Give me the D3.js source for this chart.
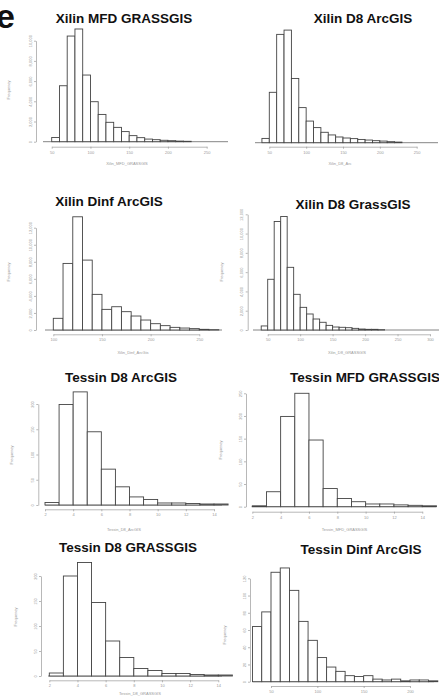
<!DOCTYPE html>
<html>
<head>
<meta charset="utf-8">
<script src="https://cdn.jsdelivr.net/npm/d3@7"></script>
<style>
  body { margin: 0; background: #fff; }
  svg { display: block; font-family: "Liberation Sans", Arial, sans-serif; }
</style>
</head>
<body>
<div id="chart"></div>
<script>
// bin counts
const xilinMfdGrass = [420, 5540, 10460, 11160, 6600, 3960, 2700, 1920, 1420, 1000, 600, 400, 260, 200, 140, 100, 60, 40];
const xilinD8Arc = [420, 4940, 10620, 11040, 6300, 3440, 2120, 1480, 1020, 760, 560, 460, 400, 320, 260, 200, 160, 100, 60];
const xilinDinfArc = [1370, 7810, 13280, 8200, 4180, 2420, 2730, 2150, 1640, 1170, 740, 510, 310, 230, 160, 80, 40];
const xilinD8Grass = [420, 5260, 11250, 11770, 6500, 3700, 2350, 1660, 1140, 800, 480, 310, 280, 240, 170, 100, 70, 70, 35];
const tessinD8Arc = [5, 199, 224, 145, 71, 36, 16, 11, 4, 4, 3, 2, 2];
const tessinMfdGrass = [2, 33, 199, 250, 147, 40, 18, 11, 6, 6, 4, 3, 2];
const tessinD8Grass = [6, 200, 227, 147, 70, 37, 15, 11, 5, 5, 3, 2, 2];
const tessinDinfArc = [64, 81, 127, 132, 106, 70, 48, 28, 17, 12, 7, 6, 7, 3, 2, 3, 1, 2, 2, 1];

const titles = ["Xilin MFD GRASSGIS", "Xilin D8 ArcGIS", "Xilin Dinf ArcGIS", "Xilin D8 GrassGIS",
  "Tessin D8 ArcGIS", "Tessin MFD GRASSGIS", "Tessin D8 GRASSGIS", "Tessin Dinf ArcGIS"];
// the last panel's axis title falls below the picture, so it is left out
const xLabels = ["Xilin_MFD_GRASSGIS", "Xilin_D8_Arc", "Xilin_Dinf_ArcGis", "Xilin_D8_GRASSGIS",
  "Tessin_D8_ArcGIS", "Tessin_MFD_GRASSGIS", "Tessin_D8_GRASSGIS", null];
const counts = [xilinMfdGrass, xilinD8Arc, xilinDinfArc, xilinD8Grass,
  tessinD8Arc, tessinMfdGrass, tessinD8Grass, tessinDinfArc];
const binStart = [50, 40, 100, 40, 2, 2, 2, 30];
const binWidth = [10, 10, 10, 10, 1, 1, 1, 10];
const xTicks = [
  [50, 100, 150, 200, 250], [50, 100, 150, 200, 250], [100, 150, 200, 250], [50, 100, 150, 200, 250, 300],
  [2, 4, 6, 8, 10, 12, 14], [2, 4, 6, 8, 10, 12, 14], [2, 4, 6, 8, 10, 12, 14], [50, 100, 150, 200]
];
const yTicks = [
  [0, 2000, 4000, 6000, 8000, 10000], [0, 2000, 4000, 6000, 8000, 10000],
  [0, 2000, 4000, 6000, 8000, 10000, 12000], [0, 2000, 4000, 6000, 8000, 10000, 12000],
  [0, 50, 100, 150, 200], [0, 50, 100, 150, 200, 250], [0, 50, 100, 150, 200], [0, 20, 40, 60, 80, 100, 120]
];

// where each panel sits on the page (pixels)
const layout = [
  { x0: 51.7, x1: 206.7, y0: 141.7, y1: 40.7, ax: 36, ay: 146.7, base: [43, 228], tx: 124, ty: 23, lx: 127, ly: 165, fx: 10, fy: 90 },
  { x0: 269.3, x1: 416.7, y0: 142.7, y1: 40.7, ax: null, ay: 146.7, base: [255, 438], tx: 363, ty: 23, lx: 340, ly: 165, fx: null, fy: null },
  { x0: 53.3, x1: 199.3, y0: 330, y1: 227.7, ax: 36, ay: 334.3, base: [45, 222], tx: 109, ty: 205.7, lx: 133, ly: 354, fx: 10, fy: 272 },
  { x0: 267.7, x1: 430, y0: 330, y1: 214.3, ax: 247.7, ay: 334.3, base: [253, 439], tx: 353, ty: 209, lx: 347, ly: 354, fx: 223, fy: 272 },
  { x0: 45, x1: 214, y0: 505, y1: 404, ax: 38.3, ay: 509.3, base: [45, 222], tx: 121, ty: 382, lx: 124, ly: 531, fx: 13.3, fy: 455 },
  { x0: 252.3, x1: 422.3, y0: 506.7, y1: 393.3, ax: 246, ay: 511.7, base: [251.7, 436], tx: 365, ty: 382, lx: 344.5, ly: 531, fx: 221.7, fy: 450 },
  { x0: 49.3, x1: 218.3, y0: 676, y1: 576, ax: 41, ay: 680.3, base: [48, 222], tx: 128, ty: 552, lx: 140, ly: 695, fx: 16.7, fy: 617 },
  { x0: 271, x1: 410, y0: 681.7, y1: 578.3, ax: 250, ay: 686, base: [253, 434], tx: 361, ty: 554, lx: 340, ly: 703, fx: 226, fy: 635 }
];

const W = 439, H = 696;
const svg = d3.select("#chart").append("svg").attr("width", W).attr("height", H);

counts.forEach(function (vals, i) {
  const L = layout[i];
  const xt = xTicks[i], yt = yTicks[i];
  const x = d3.scaleLinear().domain([xt[0], xt[xt.length - 1]]).range([L.x0, L.x1]);
  const y = d3.scaleLinear().domain([0, yt[yt.length - 1]]).range([L.y0, L.y1]);
  const g = svg.append("g");

  // flat line along zero
  g.append("line")
    .attr("x1", L.base[0]).attr("x2", L.base[1])
    .attr("y1", y(0)).attr("y2", y(0))
    .attr("stroke", "#666").attr("stroke-width", 0.8);

  // the bars
  g.selectAll("rect")
    .data(vals)
    .join("rect")
    .attr("x", (d, j) => x(binStart[i] + j * binWidth[i]))
    .attr("y", d => y(d))
    .attr("width", x(binStart[i] + binWidth[i]) - x(binStart[i]))
    .attr("height", d => y(0) - y(d))
    .attr("fill", "#fff")
    .attr("stroke", "#444")
    .attr("stroke-width", 0.9);

  // x axis
  const gx = g.append("g")
    .attr("transform", `translate(0,${L.ay})`)
    .call(d3.axisBottom(x).tickValues(xt).tickSize(2).tickSizeOuter(0).tickPadding(2));
  gx.selectAll("path,line").attr("stroke", "#999").attr("stroke-width", 0.7);
  gx.selectAll("text").attr("font-size", 4).attr("fill", "#999").attr("font-family", "Liberation Sans, Arial, sans-serif");

  // y axis (the second panel has none)
  if (L.ax !== null) {
    const gy = g.append("g")
      .attr("transform", `translate(${L.ax},0)`)
      .call(d3.axisLeft(y).tickValues(yt).tickSize(2).tickSizeOuter(0));
    gy.selectAll("path,line").attr("stroke", "#999").attr("stroke-width", 0.7);
    gy.selectAll("text")
      .attr("x", 0).attr("dy", 0)
      .attr("text-anchor", "middle")
      .attr("transform", "translate(-4.5,0) rotate(-90)")
      .attr("font-size", 4).attr("fill", "#999")
      .attr("font-family", "Liberation Sans, Arial, sans-serif");
  }

  // titles
  g.append("text")
    .attr("x", L.tx).attr("y", L.ty)
    .attr("text-anchor", "middle")
    .attr("font-weight", "bold")
    .attr("font-size", 13.5)
    .attr("fill", "#111")
    .text(titles[i]);

  if (xLabels[i] !== null) {
    g.append("text")
      .attr("x", L.lx).attr("y", L.ly)
      .attr("text-anchor", "middle")
      .attr("font-size", 4)
      .attr("fill", "#999")
      .text(xLabels[i]);
  }

  if (L.fx !== null) {
    g.append("text")
      .attr("transform", `translate(${L.fx},${L.fy}) rotate(-90)`)
      .attr("text-anchor", "middle")
      .attr("font-size", 4)
      .attr("fill", "#999")
      .text("Frequency");
  }
});

// panel letter
svg.append("text")
  .attr("x", -4).attr("y", 28)
  .attr("font-weight", "bold")
  .attr("font-size", 34)
  .attr("fill", "#111")
  .text("e");
</script>
</body>
</html>
